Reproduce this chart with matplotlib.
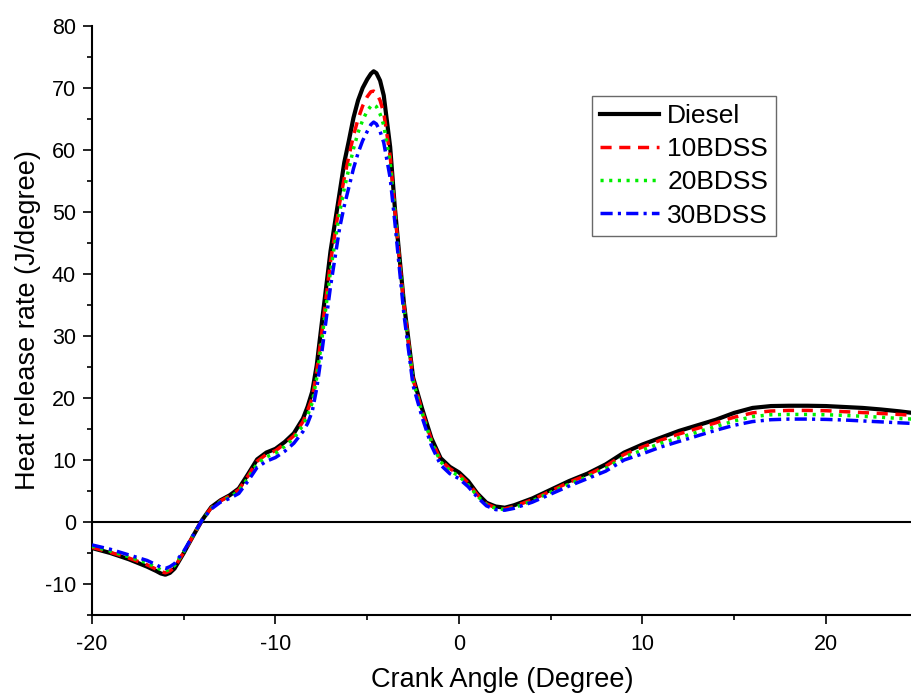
import matplotlib
matplotlib.use("Agg")
import matplotlib.pyplot as plt
from matplotlib.ticker import MultipleLocator

plt.rcParams['font.family'] = ['Liberation Sans', 'DejaVu Sans']
plt.rcParams['axes.unicode_minus'] = False

crank_angle = [-20, -19, -18, -17, -16.5, -16.25, -16, -15.75, -15.5, -15, -14.5, -14, -13.5, -13,
               -12.5, -12, -11.5, -11, -10.5, -10, -9.5, -9, -8.5, -8.25, -8, -7.75, -7.5, -7,
               -6.5, -6.25, -6, -5.75, -5.5, -5.25, -5, -4.8, -4.65, -4.5, -4.3, -4.1, -3.75,
               -3.5, -3.25, -3, -2.5, -2, -1.5, -1, -0.5, 0, 0.5, 1, 1.5, 2, 2.5, 3, 4, 5, 6,
               7, 8, 9, 10, 11, 12, 13, 14, 15, 16, 17, 18, 19, 20, 21, 22, 23, 24, 24.7]

diesel = [-4.2, -5.0, -6.0, -7.2, -7.9, -8.3, -8.5, -8.2, -7.5, -5.0, -2.3, 0.3, 2.4, 3.5,
          4.3, 5.4, 7.7, 10.1, 11.2, 11.8, 12.9, 14.3, 16.7, 18.6, 21.0, 25.3, 31.5, 43.7,
          53.2, 58.0, 61.5, 65.2, 68.0, 70.0, 71.4, 72.3, 72.7, 72.4, 71.2, 68.8, 60.5,
          50.9, 43.0, 35.3, 23.3, 18.2, 13.5, 10.3, 8.9, 8.0, 6.6, 4.6, 3.1, 2.5, 2.3, 2.7,
          3.8, 5.2, 6.6, 7.8, 9.3, 11.2, 12.5, 13.6, 14.7, 15.6, 16.5, 17.6, 18.4, 18.7,
          18.75, 18.75, 18.7, 18.55, 18.4, 18.15, 17.85, 17.6]

bdss10 = [-4.1, -4.9, -5.8, -6.9, -7.6, -8.0, -8.2, -7.9, -7.3, -4.9, -2.3, 0.3, 2.3, 3.4,
          4.2, 5.2, 7.4, 9.8, 10.9, 11.5, 12.6, 13.9, 16.2, 18.0, 20.0, 24.3, 30.0, 42.0,
          51.5, 55.5, 59.0, 62.3, 65.0, 67.1, 68.6, 69.4, 69.5, 69.2, 68.0, 66.0, 59.0,
          50.5, 42.5, 35.0, 23.0, 17.8, 13.2, 10.0, 8.6, 7.7, 6.3, 4.4, 2.9, 2.3, 2.1, 2.5,
          3.6, 5.0, 6.4, 7.6, 9.0, 10.9, 12.1, 13.2, 14.2, 15.1, 16.0, 16.9, 17.6, 17.9,
          18.0, 18.0, 17.95, 17.8, 17.65, 17.5, 17.35, 17.2]

bdss20 = [-3.9, -4.7, -5.6, -6.6, -7.3, -7.7, -7.9, -7.6, -7.0, -4.8, -2.2, 0.3, 2.2, 3.3,
          4.0, 5.0, 7.1, 9.4, 10.5, 11.1, 12.2, 13.5, 15.6, 17.2, 19.2, 23.3, 28.8, 40.5,
          50.0, 53.8, 57.0, 60.2, 62.8, 64.8, 66.3, 67.1, 67.3, 67.0, 65.8, 64.0, 58.0,
          50.0, 42.0, 34.5, 22.7, 17.5, 12.9, 9.7, 8.3, 7.4, 6.0, 4.2, 2.8, 2.2, 2.0, 2.3,
          3.4, 4.8, 6.1, 7.3, 8.6, 10.5, 11.6, 12.7, 13.6, 14.5, 15.4, 16.3, 17.0, 17.3,
          17.35, 17.35, 17.3, 17.2, 17.05, 16.9, 16.7, 16.6]

bdss30 = [-3.7, -4.4, -5.3, -6.2, -6.9, -7.3, -7.5, -7.2, -6.7, -4.7, -2.2, 0.3, 2.1, 3.2,
          3.8, 4.6, 6.6, 8.8, 9.8, 10.4, 11.4, 12.7, 14.6, 15.9, 17.8, 21.6, 26.8, 38.0,
          47.5, 51.0, 54.0, 57.0, 59.5, 61.5, 63.0, 64.1, 64.5, 64.2, 63.0, 61.2, 55.5,
          48.5, 41.0, 33.5, 22.0, 16.8, 12.3, 9.2, 7.8, 7.0, 5.7, 4.0, 2.6, 2.0, 1.9, 2.2,
          3.2, 4.5, 5.8, 7.0, 8.2, 10.0, 11.0, 12.1, 13.0, 13.9, 14.8, 15.6, 16.2, 16.5,
          16.6, 16.6, 16.55, 16.45, 16.3, 16.15, 16.0, 15.9]

series_labels = ['Diesel', '10BDSS', '20BDSS', '30BDSS']

fig = plt.figure(figsize=(9.12, 6.98), dpi=100)
ax = fig.add_axes([92 / 912, 83 / 698, 820 / 912, 589 / 698])

ax.axhline(0, color='black', lw=1.5, zorder=1)
ax.plot(crank_angle, diesel, color='black', lw=3.0, ls='-', label=series_labels[0], zorder=2)
ax.plot(crank_angle, bdss10, color='#ff0000', lw=2.5, ls=(0, (3.2, 2.2)), label=series_labels[1], zorder=3)
ax.plot(crank_angle, bdss20, color='#00ee00', lw=2.5, ls=(0, (0.9, 1.6)), label=series_labels[2], zorder=4)
ax.plot(crank_angle, bdss30, color='#0000ff', lw=2.5, ls=(0, (3.5, 1.5, 0.9, 1.5)), label=series_labels[3], zorder=5)

ax.set_xlim(-20, 24.69)
ax.set_ylim(-15, 80)
ax.xaxis.set_major_locator(MultipleLocator(10))
ax.xaxis.set_minor_locator(MultipleLocator(5))
ax.yaxis.set_major_locator(MultipleLocator(10))
ax.yaxis.set_minor_locator(MultipleLocator(5))

for s in ['top', 'right']:
    ax.spines[s].set_visible(False)
for s in ['left', 'bottom']:
    ax.spines[s].set_linewidth(1.5)

ax.tick_params(which='major', direction='out', length=6.5, width=1.2, labelsize=15.5)
ax.tick_params(which='minor', direction='out', length=3.7, width=1.2)
ax.tick_params(axis='x', which='major', pad=7)
ax.tick_params(axis='y', which='major', pad=5)

ax.set_xlabel('Crank Angle (Degree)', fontsize=19.5, labelpad=9)
ax.set_ylabel('Heat release rate (J/degree)', fontsize=19.5, labelpad=3)

leg = ax.legend(loc='upper left', bbox_to_anchor=(0.6098, 0.881), fontsize=19,
                handlelength=2.25, handletextpad=0.3, labelspacing=0.35,
                borderpad=0.3, borderaxespad=0, fancybox=False, frameon=True)
leg.get_frame().set_edgecolor('#444444')
leg.get_frame().set_linewidth(1.0)

fig.savefig('out.png', dpi=100)
